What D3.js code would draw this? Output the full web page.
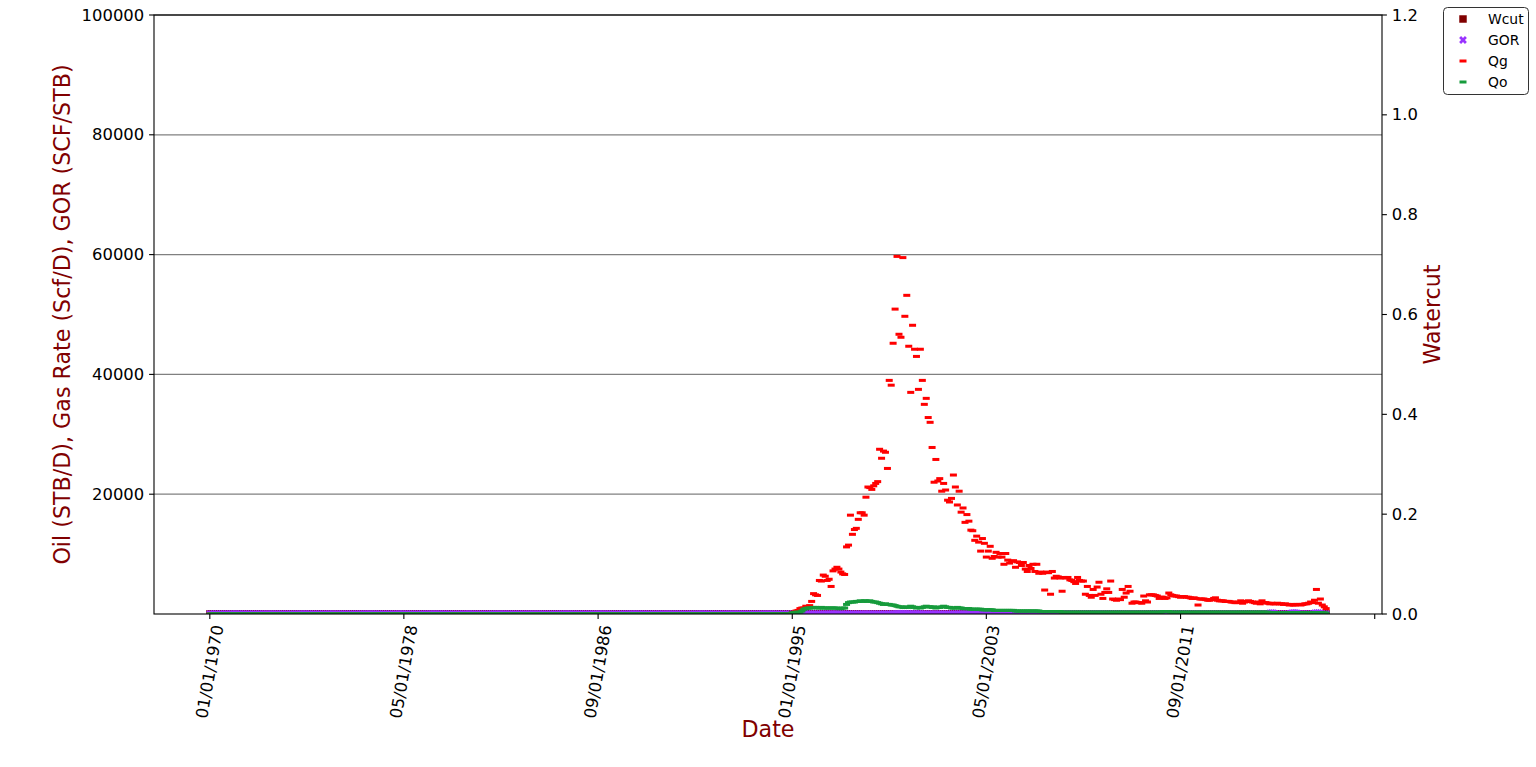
<!DOCTYPE html>
<html><head><meta charset="utf-8">
<script src="https://cdn.jsdelivr.net/npm/d3@7"></script>
<style>body{margin:0;background:#fff} svg{display:block} text{font-family:"DejaVu Sans",sans-serif}</style>
</head><body><svg id="c" width="1536" height="767"></svg>
<script>
// ---------------- DATA ----------------
const firstMonth = "1970-01-01";
const lastMonthExclusive = "2018-01-01";
const xTickDates = ["1970-01-01","1978-05-01","1986-09-01","1995-01-01","2003-05-01","2011-09-01","2020-01-01"];
const xTickLabels = ["01/01/1970","05/01/1978","09/01/1986","01/01/1995","05/01/2003","09/01/2011",""];
const leftTicks = [20000,40000,60000,80000,100000];
const leftGrid = [20000,40000,60000,80000,100000];
const rightTicks = [0,0.2,0.4,0.6,0.8,1.0,1.2];
const rightTickLabels = ["0.0","0.2","0.4","0.6","0.8","1.0","1.2"];
const seriesNames = ["Wcut","GOR","Qg","Qo"];

// monthly values 1970-01 .. 1994-12 (all series sit at zero)
const flat1970_1994 = [
0,0,0,0,0,0,0,0,0,0,0,0, 0,0,0,0,0,0,0,0,0,0,0,0, 0,0,0,0,0,0,0,0,0,0,0,0, 0,0,0,0,0,0,0,0,0,0,0,0, 0,0,0,0,0,0,0,0,0,0,0,0,
0,0,0,0,0,0,0,0,0,0,0,0, 0,0,0,0,0,0,0,0,0,0,0,0, 0,0,0,0,0,0,0,0,0,0,0,0, 0,0,0,0,0,0,0,0,0,0,0,0, 0,0,0,0,0,0,0,0,0,0,0,0,
0,0,0,0,0,0,0,0,0,0,0,0, 0,0,0,0,0,0,0,0,0,0,0,0, 0,0,0,0,0,0,0,0,0,0,0,0, 0,0,0,0,0,0,0,0,0,0,0,0, 0,0,0,0,0,0,0,0,0,0,0,0,
0,0,0,0,0,0,0,0,0,0,0,0, 0,0,0,0,0,0,0,0,0,0,0,0, 0,0,0,0,0,0,0,0,0,0,0,0, 0,0,0,0,0,0,0,0,0,0,0,0, 0,0,0,0,0,0,0,0,0,0,0,0,
0,0,0,0,0,0,0,0,0,0,0,0, 0,0,0,0,0,0,0,0,0,0,0,0, 0,0,0,0,0,0,0,0,0,0,0,0, 0,0,0,0,0,0,0,0,0,0,0,0, 0,0,0,0,0,0,0,0,0,0,0,0
];

// Gas rate Qg (Scf/D), monthly 1995-01 .. 2017-12
const qg1995_2017 = [
200,300,500,600,900,1000,1000,1300,1200,1400,2100,3400,
3200,3100,5600,5500,6500,6300,5600,5800,4600,7200,7500,7800,
7500,7000,6700,6600,11200,11500,16500,13300,14100,14300,15800,16900,
16900,16500,19500,21200,21100,20800,21400,21800,22100,27500,26000,27200,
27000,24300,39000,38200,45200,50900,59700,46700,46200,59500,49700,53200,
44700,37000,48200,44200,43000,37500,44200,39000,35000,36000,32800,32000,
27800,22000,25800,22200,22600,20500,21800,20700,19000,18700,19300,23200,
21200,18200,20500,17000,17700,15300,16600,15500,14000,13900,12300,13000,
12000,10500,12600,11800,9500,10500,11300,9300,9600,10300,9500,10100,
9500,8300,10100,9000,8500,8800,8900,7800,8700,8600,8100,8600,
7500,7100,8100,7600,8300,7100,8300,6800,7000,6800,4000,7000,
6900,3300,7100,6000,6300,6200,6000,3800,6100,6000,6100,5700,
5600,5400,5100,6100,5600,5500,5500,3300,4600,3100,2800,4100,
3100,4500,5300,3300,2600,3600,4200,3600,5500,2500,2400,2300,
2500,2400,4100,2800,3500,4600,3800,1800,2000,2000,1900,1900,
1800,3000,2200,2000,3200,3200,3200,3100,3000,2600,2800,2800,
2600,2700,3500,3200,3100,3000,3000,2900,2800,2900,2900,2800,
2800,2700,2600,2700,2600,1500,2500,2500,2500,2400,2300,2300,
2400,2600,2700,2300,2200,2200,2200,2100,2100,2100,2000,2000,
1900,1900,2000,2200,1800,2000,2100,2200,2100,2000,1900,1800,
2000,1700,2200,1900,1900,1800,1700,1800,1700,1700,1800,1700,
1700,1600,1700,1600,1500,1600,1500,1500,1600,1600,1500,1600,
1700,1700,1800,2000,1900,2300,4100,1800,2500,1500,1200,900
];

// Oil rate Qo (STB/D), monthly 1995-01 .. 2017-12
const qo1995_2017 = [
200,200,300,300,300,500,800,900,1000,1000,1000,1100,
1100,1000,1000,1100,1000,1000,1000,1000,1000,1000,1000,1000,
900,900,1000,1000,1600,1900,2000,2000,2000,2100,2100,2200,
2100,2200,2200,2100,2200,2100,2000,2000,1900,1800,1700,1600,
1700,1600,1600,1500,1500,1400,1300,1200,1200,1100,1100,1200,
1100,1300,1200,1100,1000,1100,1000,1100,1200,1300,1200,1200,
1100,1200,1000,1100,1100,1200,1300,1200,1100,1100,1000,1000,
1000,1100,1000,1000,900,900,900,900,800,800,800,800,
800,800,700,700,700,700,700,700,600,600,600,600,
600,600,600,600,600,600,600,500,500,500,500,500,
500,500,500,500,500,500,500,500,400,400,400,400,
400,400,400,400,400,400,400,300,300,300,300,300,
300,300,300,300,300,300,300,300,300,300,300,300,
300,300,300,300,300,300,300,300,300,300,300,300,
300,300,300,300,300,300,300,300,300,300,300,300,
300,300,300,300,300,300,300,300,300,300,300,400,
400,400,400,300,300,300,300,300,300,300,300,300,
300,300,300,300,300,300,300,300,300,300,300,300,
300,300,300,300,300,300,300,300,300,300,300,300,
300,300,300,300,300,300,300,300,300,300,300,300,
300,300,300,300,300,300,250,250,250,250,250,250,
250,250,250,250,250,250,250,250,250,250,250,250,
250,250,250,250,250,250,250,250,200,200,200,150
];

// GOR (SCF/STB), monthly 1995-01 .. 2017-12 (near zero on this scale)
const gor1995_2017 = [
1,2,2,2,3,2,1,1,1,1,2,3, 3,3,6,5,7,6,6,6,5,7,8,8,
8,8,7,7,7,6,8,7,7,7,8,8, 8,8,9,10,10,10,11,11,12,15,15,17,
16,15,24,25,30,36,46,39,39,54,45,44, 41,28,40,40,43,34,44,35,29,28,27,27,
25,18,26,20,21,17,17,17,17,17,19,23, 21,17,21,17,20,17,18,17,18,17,15,16,
15,13,18,17,14,15,16,13,16,17,16,17, 16,14,17,15,14,15,15,16,17,17,16,17,
15,14,16,15,17,14,17,14,18,17,10,18, 17,8,18,15,16,16,15,13,20,20,20,19,
19,18,17,20,19,18,18,11,15,10,9,14, 10,15,18,11,9,12,14,12,18,8,8,8,
8,8,14,9,12,15,13,6,7,7,6,6, 6,10,7,7,11,11,11,10,10,9,9,7,
7,7,9,11,10,10,10,10,9,10,10,9, 9,9,9,9,9,5,8,8,8,8,8,8,
8,9,9,8,7,7,7,7,7,7,7,7, 6,6,7,7,6,7,7,7,7,7,6,6,
7,6,7,6,6,6,150,200,150,7,7,7, 7,6,7,6,6,150,200,200,150,6,6,6,
7,7,7,8,8,150,200,200,150,8,6,6
];

// Watercut (fraction), monthly 1995-01 .. 2017-12
const wcut1995_2017 = [
0,0,0,0,0,0,0,0,0,0,0,0, 0,0,0,0,0,0,0,0,0,0,0,0, 0,0,0,0,0,0,0,0,0,0,0,0, 0,0,0,0,0,0,0,0,0,0,0,0,
0,0,0,0,0,0,0,0,0,0,0,0, 0,0,0,0,0,0,0,0,0,0,0,0, 0,0,0,0,0,0,0,0,0,0,0,0, 0,0,0,0,0,0,0,0,0,0,0,0,
0,0,0,0,0,0,0,0,0,0,0,0, 0,0,0,0,0,0,0,0,0,0,0,0, 0,0,0,0,0,0,0,0,0,0,0,0, 0,0,0,0,0,0,0,0,0,0,0,0,
0,0,0,0,0,0,0,0,0,0,0,0, 0,0,0,0,0,0,0,0,0,0,0,0, 0,0,0,0,0,0,0,0,0,0,0,0, 0,0,0,0,0,0,0,0,0,0,0,0,
0,0,0,0,0,0,0,0,0,0,0,0, 0,0,0,0,0,0,0,0,0,0,0,0, 0,0,0,0,0,0,0,0,0,0,0,0, 0,0,0,0,0,0,0,0,0,0,0,0,
0,0,0,0,0,0,0,0,0,0,0,0, 0,0,0,0,0,0,0,0,0,0,0,0, 0,0,0,0,0,0,0,0,0,0,0,0
];

// ---------------- CHART ----------------
const months = d3.timeMonth.range(new Date(firstMonth+"T00:00:00"), new Date(lastMonthExclusive+"T00:00:00"));
const qg = flat1970_1994.concat(qg1995_2017);
const qo = flat1970_1994.concat(qo1995_2017);
const gor = flat1970_1994.concat(gor1995_2017);
const wcut = flat1970_1994.concat(wcut1995_2017);

const svg = d3.select("#c");
svg.append("rect").attr("width",1536).attr("height",767).attr("fill","#fff");

const L = 154, R = 1382, T = 15, B = 614;
const t0 = months[0], t1 = months[months.length-1];
const pad = (t1 - t0) * 0.05;
const x = d3.scaleTime().domain([new Date(+t0 - pad), new Date(+t1 + pad)]).range([L, R]);
const y = d3.scaleLinear().domain([0, 100000]).range([B, T]);
const y2 = d3.scaleLinear().domain([0, 1.2]).range([B, T]);

const labelColor = "#800000";
const tickFs = 16.4, labFs = 22.2, legFs = 13.9;
const tickLen = 4.9, tickPad = 4.9;

// grid
svg.append("g").selectAll("line").data(leftGrid).join("line")
  .attr("x1", L).attr("x2", R).attr("y1", d => y(d)).attr("y2", d => y(d))
  .attr("stroke", "#808080").attr("stroke-width", 1.3);

// clip
svg.append("clipPath").attr("id","plotclip").append("rect")
  .attr("x", L).attr("y", T).attr("width", R-L).attr("height", B-T);
const plot = svg.append("g").attr("clip-path","url(#plotclip)");

const colors = {Wcut:"#800000", GOR:"#9933ff", Qg:"#ff0000", Qo:"#169b3c"};
const sqPath = d3.symbol(d3.symbolSquare, 56)();
const xPath = d3.symbol(d3.symbolCross, 38)();

plot.append("g").selectAll("path").data(months).join("path")
  .attr("d", sqPath).attr("fill", colors.Wcut)
  .attr("transform", (d,i) => `translate(${x(d)},${y2(wcut[i])})`);
plot.append("g").selectAll("path").data(months).join("path")
  .attr("d", xPath).attr("fill", colors.GOR)
  .attr("transform", (d,i) => `translate(${x(d)},${y(gor[i])}) rotate(45)`);
plot.append("g").selectAll("rect").data(months).join("rect")
  .attr("x", d => x(d) - 3.5).attr("y", (d,i) => y(qg[i]) - 1.5)
  .attr("width", 7).attr("height", 3).attr("fill", colors.Qg);
plot.append("g").selectAll("rect").data(months).join("rect")
  .attr("x", d => x(d) - 3.5).attr("y", (d,i) => y(qo[i]) - 1.5)
  .attr("width", 7).attr("height", 3).attr("fill", colors.Qo);

// spines
svg.append("rect").attr("x", L).attr("y", T).attr("width", R-L).attr("height", B-T)
  .attr("fill","none").attr("stroke","#000").attr("stroke-width",1.1);

// left axis ticks
const gl = svg.append("g");
leftTicks.forEach(v => {
  gl.append("line").attr("x1", L-tickLen).attr("x2", L).attr("y1", y(v)).attr("y2", y(v)).attr("stroke","#000").attr("stroke-width",1.1);
  gl.append("text").attr("x", L-tickLen-tickPad).attr("y", y(v)).attr("text-anchor","end")
    .attr("dominant-baseline","central").attr("font-size", tickFs).attr("fill","#000").text(d3.format("d")(v));
});
// right axis ticks
rightTicks.forEach((v,i) => {
  gl.append("line").attr("x1", R).attr("x2", R+tickLen).attr("y1", y2(v)).attr("y2", y2(v)).attr("stroke","#000").attr("stroke-width",1.1);
  gl.append("text").attr("x", R+tickLen+tickPad).attr("y", y2(v)).attr("text-anchor","start")
    .attr("dominant-baseline","central").attr("font-size", tickFs).attr("fill","#000").text(rightTickLabels[i]);
});
// bottom ticks
const rot = 80 * Math.PI / 180;
xTickDates.forEach((ds,i) => {
  const px = x(new Date(ds+"T00:00:00"));
  gl.append("line").attr("x1", px).attr("x2", px).attr("y1", B).attr("y2", B+tickLen).attr("stroke","#000").attr("stroke-width",1.1);
  if (!xTickLabels[i]) return;
  const t = gl.append("text").attr("font-size", tickFs).attr("fill","#000").text(xTickLabels[i]);
  const len = t.node().getComputedTextLength();
  const h = tickFs * 1.05;
  const bh = len*Math.sin(rot) + h*Math.cos(rot);
  t.attr("text-anchor","middle").attr("dominant-baseline","central")
   .attr("transform", `translate(${px},${B+tickLen+tickPad+bh/2}) rotate(-80)`);
});

// axis labels
svg.append("text").attr("transform", `translate(62,${(T+B)/2}) rotate(-90)`)
  .attr("text-anchor","middle").attr("dominant-baseline","central")
  .attr("font-size", labFs).attr("fill", labelColor).text("Oil (STB/D), Gas Rate (Scf/D), GOR (SCF/STB)");
svg.append("text").attr("transform", `translate(1432,${(T+B)/2}) rotate(-90)`)
  .attr("text-anchor","middle").attr("dominant-baseline","central")
  .attr("font-size", labFs).attr("fill", labelColor).text("Watercut");
svg.append("text").attr("x", (L+R)/2).attr("y", 729)
  .attr("text-anchor","middle").attr("dominant-baseline","central")
  .attr("font-size", labFs).attr("fill", labelColor).text("Date");

// legend
const lg = svg.append("g");
lg.append("rect").attr("x", 1443.5).attr("y", 7.5).attr("width", 85).attr("height", 87).attr("rx", 4)
  .attr("fill","#fff").attr("stroke","#333").attr("stroke-width",1);
seriesNames.forEach((n,i) => {
  const cy = 19 + i*21, cx = 1463;
  if (n === "Wcut") lg.append("path").attr("d", sqPath).attr("fill", colors.Wcut).attr("transform",`translate(${cx},${cy})`);
  else if (n === "GOR") lg.append("path").attr("d", xPath).attr("fill", colors.GOR).attr("transform",`translate(${cx},${cy}) rotate(45)`);
  else lg.append("rect").attr("x", cx-3.5).attr("y", cy-1.5).attr("width",7).attr("height",3).attr("fill", colors[n]);
  lg.append("text").attr("x", 1488).attr("y", cy).attr("dominant-baseline","central")
    .attr("font-size", legFs).attr("fill","#000").text(n);
});
</script></body></html>
